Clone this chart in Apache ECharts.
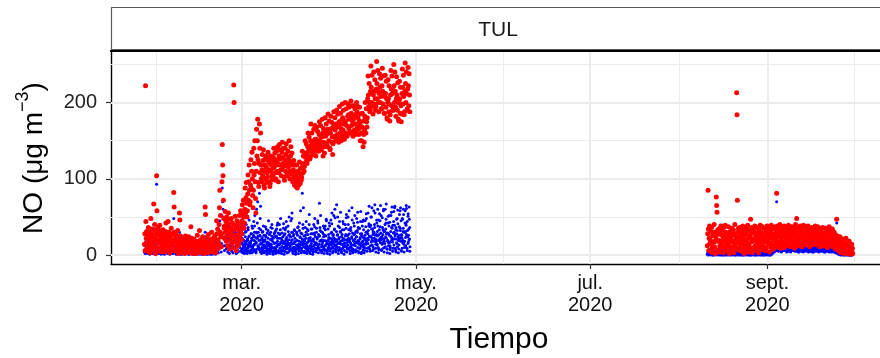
<!DOCTYPE html>
<html>
<head>
<meta charset="utf-8">
<script src="https://cdn.jsdelivr.net/npm/echarts@6/dist/echarts.min.js"></script>
<style>
  html, body { margin: 0; padding: 0; background: #ffffff; }
  #chart { width: 880px; height: 358px; }
</style>
</head>
<body>
<div id="chart"></div>
<script>
// NO concentration at station TUL, 3-hourly samples (8 per day, one row per day)
const STEP_HOURS = 3;
const period1Start = '2020-01-27T00:00:00Z';
const period2Start = '2020-08-11T00:00:00Z';
// extra blue readings in March-April, taken half a step later
const period1MidStart = '2020-03-01T01:30:00Z';

const redPeriod1 = [
  14, 28, 6, 222, 44, 22, 31, 9,
  18, 5, 26, 36, 12, 30, 8, 20,
  3, 22, 48, 15, 28, 10, 34, 17,
  25, 7, 67, 33, 14, 40, 21, 2,
  11, 30, 104, 58, 26, 18, 36, 6,
  20, 9, 32, 39, 15, 27, 4, 24,
  7, 19, 28, 12, 33, 22, 10, 26,
  16, 4, 24, 31, 42, 8, 19, 13,
  22, 11, 44, 27, 6, 30, 17, 3,
  9, 25, 18, 35, 20, 12, 28, 15,
  14, 6, 82, 63, 30, 19, 8, 24,
  5, 17, 26, 10, 21, 32, 13, 2,
  19, 8, 55, 46, 14, 25, 7, 16,
  3, 12, 22, 9, 18, 6, 15, 10,
  8, 2, 17, 25, 11, 20, 4, 13,
  12, 5, 19, 7, 24, 14, 3, 9,
  6, 15, 37, 10, 22, 8, 18, 2,
  14, 4, 11, 21, 9, 16, 6, 12,
  2, 10, 18, 7, 26, 12, 5, 15,
  9, 3, 32, 14, 8, 20, 11, 4,
  16, 7, 13, 24, 5, 18, 9, 2,
  4, 12, 63, 53, 17, 10, 22, 8,
  11, 3, 19, 27, 14, 6, 16, 9,
  7, 14, 9, 21, 30, 12, 4, 18,
  13, 5, 22, 16, 8, 25, 10, 3,
  6, 18, 45, 28, 12, 34, 20, 9,
  15, 40, 62, 85, 30, 52, 24, 11,
  28, 96, 145, 118, 104, 72, 48, 35,
  22, 38, 57, 30, 44, 18, 50, 26,
  34, 12, 41, 55, 25, 47, 8, 29,
  19, 36, 23, 48, 31, 15, 42, 27,
  10, 33, 223, 200, 39, 22, 51, 17,
  26, 6, 37, 45, 20, 34, 12, 40,
  15, 30, 52, 24, 41, 58, 33, 20,
  28, 45, 66, 38, 54, 72, 50, 35,
  42, 60, 88, 55, 75, 95, 68, 50,
  58, 80, 105, 72, 96, 118, 85, 66,
  70, 92, 125, 88, 110, 135, 100, 78,
  62, 85, 140, 105, 120, 150, 96, 74,
  55, 110, 165, 130, 150, 178, 125, 95,
  90, 120, 172, 140, 108, 160, 118, 100,
  96, 112, 132, 104, 124, 138, 110, 92,
  88, 118, 126, 100, 130, 115, 95, 108,
  102, 124, 135, 112, 96, 128, 120, 90,
  94, 110, 130, 118, 104, 125, 99, 114,
  105, 128, 140, 115, 122, 134, 108, 98,
  100, 118, 136, 125, 110, 142, 120, 96,
  108, 130, 145, 118, 126, 138, 112, 104,
  112, 135, 148, 128, 120, 140, 116, 102,
  98, 125, 140, 110, 132, 146, 118, 106,
  104, 122, 136, 115, 128, 150, 124, 100,
  110, 130, 142, 120, 106, 134, 118, 96,
  96, 112, 124, 102, 92, 118, 108, 100,
  90, 104, 118, 95, 88, 110, 99, 92,
  92, 108, 122, 100, 94, 114, 104, 98,
  102, 120, 136, 115, 108, 130, 118, 110,
  116, 134, 150, 128, 122, 146, 132, 120,
  124, 142, 160, 136, 130, 155, 140, 126,
  128, 150, 172, 144, 136, 160, 148, 132,
  132, 146, 165, 150, 140, 170, 152, 136,
  130, 152, 168, 145, 138, 162, 150, 140,
  136, 158, 175, 150, 144, 170, 156, 138,
  140, 155, 178, 160, 130, 166, 148, 142,
  134, 162, 180, 156, 146, 172, 158, 144,
  142, 165, 185, 160, 150, 176, 162, 140,
  138, 160, 182, 166, 148, 174, 155, 132,
  146, 168, 188, 170, 156, 180, 164, 150,
  150, 172, 190, 168, 158, 185, 170, 154,
  148, 175, 195, 172, 160, 186, 166, 150,
  155, 178, 198, 180, 164, 190, 172, 158,
  152, 176, 200, 176, 160, 192, 170, 156,
  158, 182, 198, 184, 166, 194, 178, 160,
  160, 180, 202, 186, 170, 196, 176, 162,
  156, 178, 196, 182, 164, 192, 172, 158,
  162, 185, 200, 188, 168, 195, 180, 165,
  158, 176, 194, 172, 150, 185, 168, 160,
  150, 168, 186, 160, 142, 176, 158, 148,
  165, 182, 200, 178, 160, 192, 175, 168,
  180, 205, 235, 210, 195, 225, 200, 188,
  190, 215, 248, 220, 200, 236, 212, 195,
  185, 210, 240, 215, 198, 230, 205, 190,
  195, 218, 254, 225, 205, 242, 215, 200,
  188, 212, 238, 220, 200, 232, 208, 192,
  192, 222, 245, 215, 198, 235, 210, 186,
  186, 208, 236, 212, 194, 228, 205, 180,
  178, 200, 230, 205, 188, 222, 198, 176,
  184, 210, 242, 218, 196, 235, 212, 190,
  190, 216, 250, 222, 200, 240, 215, 194,
  182, 205, 234, 210, 190, 226, 200, 178,
  176, 200, 228, 205, 186, 220, 196, 175,
  185, 212, 244, 220, 198, 236, 208, 184,
  188, 215, 252, 225, 200, 240, 212, 190,
  192, 218, 246, 222, 196, 238, 210, 188
];

const bluePeriod1 = [
  4, 12, 2, 30, 18, 7, 10, 3,
  6, 2, 14, 20, 9, 5, 12, 1,
  3, 8, 25, 11, 6, 15, 4, 2,
  10, 2, 40, 16, 5, 12, 7, 1,
  5, 14, 93, 35, 11, 6, 18, 3,
  2, 6, 15, 22, 8, 4, 10, 1,
  7, 3, 12, 5, 18, 9, 2, 6,
  1, 8, 20, 13, 4, 11, 6, 3,
  9, 2, 28, 16, 3, 7, 12, 1,
  4, 10, 6, 18, 8, 2, 14, 5,
  2, 5, 48, 30, 12, 6, 3, 9,
  6, 1, 11, 4, 15, 8, 2, 7,
  3, 9, 30, 22, 5, 12, 1, 6,
  1, 4, 8, 2, 10, 3, 6, 2,
  5, 1, 7, 12, 3, 9, 2, 4,
  2, 6, 9, 1, 11, 4, 1, 3,
  4, 2, 18, 5, 8, 3, 6, 1,
  1, 5, 3, 9, 2, 7, 1, 4,
  3, 1, 8, 2, 12, 5, 2, 6,
  1, 4, 15, 6, 2, 9, 3, 1,
  5, 2, 6, 11, 1, 7, 2, 3,
  2, 6, 30, 24, 5, 3, 8, 1,
  4, 1, 9, 13, 6, 2, 7, 3,
  1, 5, 3, 8, 14, 4, 1, 6,
  6, 2, 10, 5, 3, 12, 4, 1,
  2, 8, 20, 12, 4, 16, 7, 3,
  8, 18, 32, 45, 14, 26, 10, 4,
  15, 52, 88, 70, 60, 38, 22, 12,
  6, 20, 35, 12, 25, 8, 30, 10,
  18, 4, 22, 38, 10, 28, 2, 14,
  8, 24, 12, 30, 16, 5, 26, 11,
  3, 18, 40, 34, 22, 9, 30, 6,
  12, 2, 20, 28, 7, 18, 4, 24,
  5, 14, 32, 10, 22, 36, 15, 6,
  4, 16, 28, 9, 20, 34, 12, 3,
  2, 12, 30, 8, 18, 40, 14, 5,
  6, 20, 36, 11, 24, 46, 16, 3,
  3, 15, 28, 7, 22, 38, 12, 4,
  8, 24, 44, 14, 30, 52, 18, 6,
  5, 30, 60, 22, 42, 70, 25, 9,
  10, 35, 81, 26, 48, 64, 20, 4,
  2, 14, 30, 8, 20, 38, 12, 3,
  5, 18, 26, 10, 24, 34, 9, 1,
  3, 12, 32, 6, 16, 28, 14, 2,
  7, 20, 36, 12, 25, 40, 10, 4,
  1, 9, 24, 5, 15, 30, 8, 2,
  4, 16, 34, 11, 22, 42, 13, 3,
  6, 22, 40, 14, 28, 48, 17, 5,
  2, 11, 29, 7, 18, 35, 10, 1,
  5, 15, 33, 9, 21, 44, 12, 3,
  3, 19, 38, 13, 26, 50, 15, 6,
  8, 24, 45, 16, 30, 55, 20, 4,
  2, 10, 27, 6, 17, 32, 9, 1,
  4, 13, 30, 8, 19, 36, 11, 2,
  6, 18, 42, 12, 24, 58, 14, 3,
  9, 28, 81, 20, 35, 62, 18, 5,
  3, 14, 36, 10, 22, 44, 12, 2,
  5, 17, 32, 8, 20, 40, 10, 4,
  2, 12, 28, 6, 18, 34, 9, 1,
  7, 21, 40, 13, 27, 48, 16, 5,
  4, 16, 35, 9, 23, 45, 12, 3,
  8, 25, 68, 18, 32, 52, 19, 6,
  3, 13, 30, 7, 19, 38, 11, 2,
  6, 19, 38, 12, 25, 47, 14, 4,
  2, 15, 34, 8, 21, 42, 10, 1,
  5, 22, 46, 14, 30, 55, 17, 3,
  9, 27, 52, 19, 34, 60, 21, 7,
  4, 18, 66, 11, 26, 50, 15, 2,
  7, 23, 44, 15, 31, 56, 18, 5,
  3, 14, 33, 9, 20, 41, 11, 1,
  6, 20, 40, 12, 27, 49, 16, 4,
  8, 26, 50, 18, 33, 58, 20, 6,
  2, 16, 36, 10, 22, 62, 13, 3,
  5, 19, 42, 13, 28, 52, 17, 4,
  7, 24, 48, 16, 32, 56, 19, 5,
  3, 15, 35, 9, 21, 44, 12, 2,
  4, 17, 38, 11, 24, 46, 14, 3,
  6, 22, 45, 15, 30, 54, 18, 5,
  9, 28, 55, 20, 38, 64, 24, 8,
  5, 24, 50, 17, 34, 62, 22, 6,
  11, 30, 58, 22, 40, 66, 26, 9,
  4, 20, 46, 14, 31, 60, 19, 3,
  8, 27, 54, 19, 37, 65, 23, 7,
  6, 23, 49, 16, 33, 58, 21, 4,
  10, 31, 60, 24, 42, 67, 28, 8,
  3, 18, 42, 12, 28, 52, 16, 2,
  7, 25, 52, 18, 36, 63, 22, 5,
  9, 29, 57, 21, 39, 64, 25, 7,
  4, 21, 47, 15, 32, 59, 20, 3,
  8, 26, 53, 19, 35, 62, 23, 6,
  5, 22, 48, 16, 31, 60, 18, 4,
  10, 30, 58, 23, 41, 65, 27, 9,
  6, 24, 51, 17, 34, 63, 21, 5
];

const bluePeriod1Mid = [
  8, 22, 14, 3, 27, 11, 19, 6,
  15, 4, 24, 10, 31, 7, 18, 2,
  21, 9, 33, 13, 5, 25, 12, 17,
  6, 18, 11, 28, 3, 20, 35, 9,
  12, 26, 5, 19, 38, 14, 7, 23,
  3, 16, 29, 8, 22, 12, 30, 10,
  19, 7, 25, 14, 4, 33, 16, 8,
  10, 23, 6, 31, 17, 9, 26, 13,
  4, 20, 37, 11, 24, 6, 15, 29,
  17, 8, 22, 45, 13, 27, 5, 11,
  9, 30, 14, 6, 21, 35, 18, 3,
  22, 5, 16, 28, 10, 24, 8, 32,
  7, 25, 12, 39, 18, 4, 29, 14,
  13, 3, 27, 9, 33, 16, 22, 6,
  20, 11, 6, 24, 15, 41, 10, 26,
  5, 28, 18, 12, 36, 8, 23, 15,
  16, 9, 31, 4, 20, 27, 13, 7,
  11, 24, 7, 19, 48, 14, 30, 9,
  25, 6, 15, 33, 10, 22, 5, 18,
  8, 19, 28, 12, 26, 9, 37, 14,
  14, 32, 10, 23, 6, 29, 17, 4,
  6, 21, 13, 40, 16, 11, 25, 20,
  18, 4, 26, 9, 30, 15, 7, 34,
  10, 27, 17, 5, 22, 53, 12, 19,
  23, 8, 34, 15, 11, 28, 20, 6,
  4, 18, 12, 29, 37, 9, 24, 14,
  15, 30, 7, 21, 13, 42, 10, 27,
  9, 14, 25, 36, 6, 19, 31, 11,
  20, 6, 16, 11, 28, 24, 8, 35,
  12, 26, 33, 7, 18, 45, 15, 5,
  7, 19, 10, 27, 23, 13, 38, 16,
  17, 8, 29, 14, 41, 20, 11, 26,
  5, 23, 15, 33, 12, 49, 18, 9,
  13, 31, 8, 20, 27, 16, 38, 6,
  21, 10, 36, 17, 7, 30, 14, 24,
  8, 27, 19, 44, 22, 12, 33, 15,
  16, 5, 25, 11, 35, 53, 20, 10,
  26, 13, 40, 22, 9, 28, 17, 34,
  11, 32, 14, 6, 24, 46, 29, 8,
  19, 7, 27, 38, 16, 21, 12, 31,
  6, 24, 17, 30, 43, 10, 36, 18,
  14, 35, 9, 23, 28, 57, 15, 25,
  28, 12, 44, 18, 7, 33, 22, 11,
  9, 26, 20, 37, 14, 48, 30, 16,
  22, 15, 32, 10, 41, 25, 8, 37,
  12, 39, 24, 50, 19, 13, 34, 27,
  31, 8, 18, 29, 36, 55, 21, 14,
  17, 27, 42, 13, 25, 38, 10, 46,
  7, 33, 21, 45, 16, 29, 52, 20,
  24, 14, 36, 27, 9, 60, 31, 18,
  15, 40, 11, 34, 47, 22, 28, 8,
  29, 19, 51, 16, 38, 26, 43, 12,
  10, 31, 24, 56, 20, 35, 17, 39,
  21, 44, 13, 30, 62, 27, 9, 33,
  36, 16, 28, 48, 11, 41, 24, 19,
  13, 37, 22, 58, 32, 18, 45, 27,
  26, 9, 47, 19, 35, 53, 14, 30,
  18, 42, 31, 12, 39, 61, 25, 44,
  32, 15, 54, 26, 20, 47, 36, 11
];

const redPeriod2 = [
  12, 28, 85, 34, 6, 22, 38, 15,
  20, 5, 31, 14, 36, 9, 25, 3,
  8, 26, 17, 40, 11, 30, 2, 19,
  24, 76, 65, 56, 18, 33, 7, 28,
  4, 19, 35, 12, 27, 6, 38, 16,
  15, 32, 9, 25, 3, 21, 36, 11,
  27, 8, 39, 18, 30, 13, 5, 22,
  10, 24, 14, 37, 20, 2, 29, 17,
  31, 6, 22, 11, 35, 26, 9, 4,
  18, 33, 3, 28, 15, 40, 12, 25,
  7, 21, 213, 184, 72, 30, 16, 35,
  23, 10, 36, 19, 6, 27, 33, 14,
  5, 30, 16, 38, 24, 9, 20, 2,
  26, 13, 34, 8, 29, 18, 37, 11,
  15, 39, 22, 4, 32, 12, 25, 7,
  9, 47, 28, 17, 36, 21, 3, 30,
  34, 6, 19, 31, 11, 38, 24, 13,
  20, 27, 8, 36, 16, 29, 5, 22,
  3, 33, 25, 12, 39, 18, 30, 10,
  28, 14, 37, 21, 7, 26, 35, 17,
  11, 24, 6, 32, 20, 9, 29, 38,
  36, 18, 27, 14, 33, 23, 4, 26,
  16, 30, 10, 39, 22, 35, 13, 8,
  25, 8, 34, 19, 28, 12, 37, 21,
  14, 29, 81, 35, 24, 38, 17, 10,
  32, 12, 26, 40, 18, 30, 22, 9,
  19, 36, 14, 28, 33, 11, 25, 38,
  10, 24, 37, 16, 29, 21, 34, 13,
  27, 15, 31, 39, 12, 26, 20, 35,
  22, 34, 11, 25, 37, 17, 30, 14,
  13, 28, 36, 20, 9, 32, 24, 40,
  30, 16, 48, 27, 21, 35, 12, 26,
  18, 33, 25, 12, 38, 22, 29, 15,
  24, 11, 35, 30, 17, 39, 20, 28,
  15, 29, 20, 37, 26, 13, 33, 22,
  31, 19, 38, 16, 28, 24, 11, 35,
  12, 26, 30, 22, 36, 17, 27, 20,
  28, 14, 34, 25, 19, 31, 38, 16,
  20, 35, 13, 29, 24, 37, 18, 26,
  33, 17, 27, 11, 32, 21, 35, 23,
  14, 30, 22, 36, 18, 26, 12, 28,
  25, 12, 35, 20, 29, 16, 33, 19,
  10, 27, 18, 31, 23, 37, 15, 24,
  29, 16, 32, 13, 26, 20, 34, 11,
  17, 24, 12, 30, 21, 9, 27, 15,
  8, 22, 47, 16, 25, 11, 20, 6,
  13, 5, 19, 24, 9, 16, 3, 11,
  4, 15, 8, 21, 12, 6, 18, 2,
  10, 3, 16, 7, 22, 13, 5, 9,
  2, 12, 6, 15, 4, 18, 8, 3,
  7, 1, 11, 5, 14, 3, 9, 2
];

const bluePeriod2 = [
  1, 3, 0, 5, 2, 1, 4, 2,
  2, 0, 4, 1, 6, 3, 1, 0,
  0, 2, 1, 5, 3, 0, 2, 1,
  3, 1, 6, 2, 0, 4, 1, 2,
  1, 4, 0, 3, 2, 1, 5, 0,
  2, 0, 3, 1, 4, 2, 0, 3,
  0, 3, 2, 6, 1, 0, 4, 1,
  4, 1, 0, 2, 5, 3, 1, 0,
  1, 2, 5, 0, 3, 1, 2, 4,
  3, 0, 1, 4, 2, 6, 0, 1,
  0, 2, 8, 5, 1, 3, 0, 2,
  2, 1, 4, 0, 3, 1, 5, 0,
  1, 3, 0, 2, 6, 0, 2, 1,
  0, 1, 3, 1, 2, 4, 0, 3,
  2, 5, 1, 0, 3, 1, 4, 0,
  1, 0, 2, 4, 0, 2, 1, 3,
  3, 1, 0, 2, 5, 1, 0, 2,
  0, 4, 2, 1, 3, 0, 2, 1,
  2, 1, 5, 0, 1, 3, 4, 0,
  1, 3, 0, 2, 4, 1, 0, 2,
  0, 2, 1, 6, 2, 0, 3, 1,
  4, 1, 3, 0, 2, 5, 1, 0,
  1, 0, 2, 3, 1, 2, 6, 3,
  3, 5, 8, 4, 6, 9, 5, 7,
  6, 9, 70, 11, 7, 12, 8, 5,
  8, 12, 6, 10, 13, 7, 11, 4,
  5, 10, 13, 8, 11, 6, 12, 9,
  9, 6, 11, 13, 7, 10, 4, 12,
  7, 12, 9, 5, 10, 13, 8, 6,
  10, 4, 12, 8, 6, 11, 9, 13,
  6, 11, 7, 12, 9, 5, 10, 8,
  12, 8, 5, 10, 13, 7, 11, 4,
  4, 10, 12, 6, 9, 11, 5, 10,
  9, 5, 11, 7, 12, 4, 10, 8,
  7, 12, 6, 10, 5, 11, 8, 9,
  11, 6, 9, 4, 10, 8, 12, 5,
  5, 9, 11, 8, 6, 10, 4, 11,
  8, 4, 10, 12, 7, 5, 9, 6,
  10, 7, 5, 9, 11, 6, 8, 12,
  4, 11, 8, 6, 9, 12, 5, 7,
  9, 6, 12, 5, 8, 10, 7, 4,
  6, 10, 4, 11, 5, 8, 12, 7,
  11, 5, 9, 7, 10, 4, 8, 6,
  5, 8, 10, 4, 12, 7, 6, 9,
  7, 4, 9, 6, 8, 5, 10, 3,
  3, 6, 42, 4, 7, 2, 5, 1,
  2, 5, 1, 6, 3, 0, 4, 2,
  1, 3, 0, 4, 2, 5, 1, 0,
  0, 2, 4, 1, 3, 0, 2, 1,
  2, 0, 1, 3, 0, 2, 1, 0,
  1, 0, 2, 0, 1, 3, 0, 1
];

// Axis breaks and labels
const monthTickDates = ['2020-03-01', '2020-05-01', '2020-07-01', '2020-09-01'];
const monthTickLabels = ['mar.\n2020', 'may.\n2020', 'jul.\n2020', 'sept.\n2020'];
const monthMinorDates = ['2020-01-31', '2020-03-31T12:00:00Z', '2020-05-31T12:00:00Z', '2020-08-01', '2020-10-01T12:00:00Z'];
const xRange = ['2020-01-15T07:00:00Z', '2020-10-10T10:00:00Z'];
const yTicks = [0, 100, 200];
const yMinorTicks = [50, 150, 250];
const yRange = [-11.8, 266.4];

const stationName = 'TUL';
const xTitle = 'Tiempo';

const FONT = '"Liberation Sans", Arial, Helvetica, sans-serif';
const HOUR_MS = 3600 * 1000;
const GRID_COLOR = '#ebebeb';

function toPoints(start, values) {
  const t0 = Date.parse(start);
  return values.map((v, i) => [t0 + i * STEP_HOURS * HOUR_MS, v]);
}

const tickTimes = monthTickDates.map(d => Date.parse(d));
const minorTimes = monthMinorDates.map(d => Date.parse(d));

const gridLines = [];
minorTimes.forEach(t => gridLines.push({ xAxis: t, lineStyle: { color: GRID_COLOR, width: 1, type: 'solid' } }));
yMinorTicks.forEach(v => gridLines.push({ yAxis: v, lineStyle: { color: GRID_COLOR, width: 1, type: 'solid' } }));
tickTimes.forEach(t => gridLines.push({ xAxis: t, lineStyle: { color: GRID_COLOR, width: 2, type: 'solid' } }));
yTicks.forEach(v => gridLines.push({ yAxis: v, lineStyle: { color: GRID_COLOR, width: 2, type: 'solid' } }));

const chart = echarts.init(document.getElementById('chart'), null, { renderer: 'canvas' });

chart.setOption({
  animation: false,
  backgroundColor: '#ffffff',
  grid: { left: 111, right: 0, top: 52, bottom: 94, outerBoundsMode: 'none', containLabel: false },
  xAxis: {
    // timestamps in ms on a numeric scale
    type: 'value',
    min: Date.parse(xRange[0]),
    max: Date.parse(xRange[1]),
    axisLine: { show: true, onZero: false, lineStyle: { color: '#000000', width: 1.4 } },
    axisTick: { show: true, customValues: tickTimes, length: 5, lineStyle: { color: '#333333', width: 1.2 } },
    axisLabel: {
      show: true,
      customValues: tickTimes,
      margin: 8,
      fontSize: 20,
      lineHeight: 22,
      color: '#111111',
      fontFamily: FONT,
      formatter: function (value) {
        let best = 0;
        tickTimes.forEach((t, i) => { if (Math.abs(t - value) < Math.abs(tickTimes[best] - value)) best = i; });
        return monthTickLabels[best];
      }
    },
    splitLine: { show: false },
    minorTick: { show: false },
    minorSplitLine: { show: false }
  },
  yAxis: {
    type: 'value',
    min: yRange[0],
    max: yRange[1],
    axisLine: { show: true, onZero: false, lineStyle: { color: '#000000', width: 1.4 } },
    axisTick: { show: true, customValues: yTicks, length: 5, lineStyle: { color: '#333333', width: 1.2 } },
    axisLabel: {
      show: true,
      customValues: yTicks,
      margin: 14,
      fontSize: 20,
      color: '#222222',
      fontFamily: FONT
    },
    splitLine: { show: false },
    minorTick: { show: false },
    minorSplitLine: { show: false }
  },
  series: [
    {
      // panel grid lines, kept on the bottom layer
      type: 'line',
      data: [],
      silent: true,
      zlevel: 0,
      z: 0,
      markLine: {
        silent: true,
        symbol: 'none',
        label: { show: false },
        emphasis: { disabled: true },
        animation: false,
        data: gridLines
      }
    },
    {
      name: 'NO azul',
      type: 'scatter',
      symbol: 'circle',
      symbolSize: 3,
      itemStyle: { color: '#0000ff', opacity: 1 },
      zlevel: 1,
      z: 2,
      silent: true,
      data: toPoints(period1Start, bluePeriod1)
        .concat(toPoints(period1MidStart, bluePeriod1Mid))
        .concat(toPoints(period2Start, bluePeriod2))
    },
    {
      name: 'NO rojo',
      type: 'scatter',
      symbol: 'circle',
      symbolSize: 5,
      itemStyle: { color: '#ff0000', opacity: 1 },
      zlevel: 1,
      z: 3,
      silent: true,
      data: toPoints(period1Start, redPeriod1).concat(toPoints(period2Start, redPeriod2))
    }
  ],
  graphic: [
    {
      type: 'rect',
      silent: true,
      shape: { x: 111.5, y: 7.5, width: 800, height: 42 },
      style: { fill: '#ffffff', stroke: '#5a5a5a', lineWidth: 1.2 }
    },
    {
      type: 'line',
      silent: true,
      shape: { x1: 110, y1: 51, x2: 880, y2: 51 },
      style: { stroke: '#000000', lineWidth: 2.2 }
    },
    {
      type: 'text',
      silent: true,
      x: 498,
      y: 30,
      style: {
        text: stationName,
        font: '21px ' + FONT,
        fill: '#1a1a1a',
        align: 'center',
        verticalAlign: 'middle',
        textAlign: 'center',
        textVerticalAlign: 'middle'
      }
    },
    {
      type: 'text',
      silent: true,
      x: 499,
      y: 340,
      style: {
        text: xTitle,
        font: '30px ' + FONT,
        fill: '#000000',
        align: 'center',
        verticalAlign: 'middle',
        textAlign: 'center',
        textVerticalAlign: 'middle'
      }
    },
    {
      type: 'text',
      silent: true,
      x: 31,
      y: 158,
      rotation: Math.PI / 2,
      style: {
        text: '{a|NO (μg m}{s|−3}{a|)}',
        fill: '#000000',
        align: 'center',
        verticalAlign: 'middle',
        textAlign: 'center',
        textVerticalAlign: 'middle',
        rich: {
          a: { fontSize: 28, fontFamily: FONT, fill: '#000000', lineHeight: 34, verticalAlign: 'bottom' },
          s: { fontSize: 18, fontFamily: FONT, fill: '#000000', lineHeight: 18, verticalAlign: 'top' }
        }
      }
    }
  ]
});
</script>
</body>
</html>
